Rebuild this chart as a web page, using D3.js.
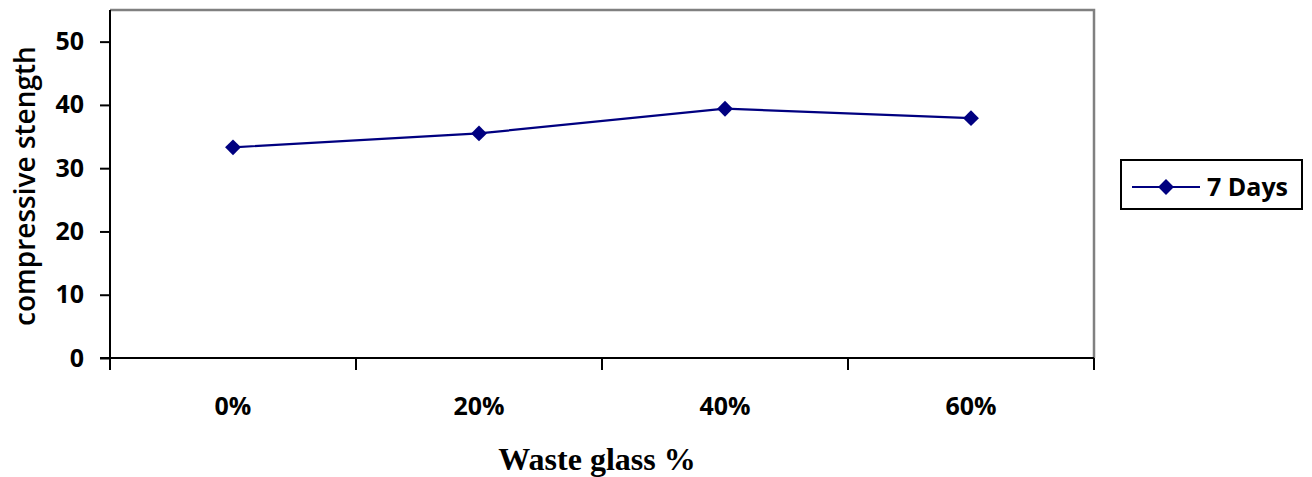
<!DOCTYPE html>
<html><head><meta charset="utf-8">
<script src="https://cdn.jsdelivr.net/npm/d3@7"></script>
<style>body{margin:0;background:#fff}svg{display:block}</style>
</head><body>
<script>
const categories = ["0%", "20%", "40%", "60%"];
const values7Days = [33.3, 35.5, 39.4, 37.9];
const yTicks = [0, 10, 20, 30, 40, 50];
const seriesName = "7 Days";
const yTitle = "compressive stength";
const xTitle = "Waste glass %";

const W = 1312, H = 477;
const pL = 110, pR = 1094, pT = 10, pB = 358;
const svg = d3.select("body").append("svg").attr("width", W).attr("height", H);
const x = d3.scaleBand().domain(categories).range([pL, pR]).paddingInner(0).paddingOuter(0);
const y = d3.scaleLinear().domain([0, 55]).range([pB, pT]);
const sans = "'Open Sans', Calibri, sans-serif";

// plot area border (gray)
svg.append("path").attr("d", `M${pL},${pT}H${pR}V${pB}`)
  .attr("fill", "none").attr("stroke", "#808080").attr("stroke-width", 2.5);

// y axis
const ya = svg.append("g").attr("transform", `translate(${pL},0)`)
  .call(d3.axisLeft(y).tickValues(yTicks).tickSize(10).tickPadding(16).tickFormat(d3.format("d")));
ya.select(".domain").attr("stroke", "#000").attr("stroke-width", 2).attr("d", `M0,${pT}V${pB}`);
ya.selectAll(".tick line").attr("stroke", "#000").attr("stroke-width", 2);
ya.selectAll(".tick text").attr("font-family", sans).attr("font-weight", "bold").attr("font-size", 25).attr("fill", "#000");

// x axis
const xa = svg.append("g").attr("transform", `translate(0,${pB})`);
xa.append("line").attr("x1", pL - 10).attr("x2", pR).attr("stroke", "#000").attr("stroke-width", 2);
const bounds = categories.map(c => x(c)).concat([x(categories[categories.length - 1]) + x.bandwidth()]);
xa.selectAll("line.tk").data(bounds).join("line").attr("class", "tk")
  .attr("x1", d => d).attr("x2", d => d).attr("y1", 0).attr("y2", 12)
  .attr("stroke", "#000").attr("stroke-width", 2);
xa.selectAll("text").data(categories).join("text")
  .attr("x", d => x(d) + x.bandwidth() / 2).attr("y", 57)
  .attr("text-anchor", "middle").attr("font-family", sans).attr("font-weight", "bold")
  .attr("font-size", 25).attr("fill", "#000").text(d => d);

// line
const pts = categories.map((c, i) => [x(c) + x.bandwidth() / 2, y(values7Days[i])]);
svg.append("path").attr("d", d3.line()(pts)).attr("fill", "none").attr("stroke", "#000080").attr("stroke-width", 2.2);
const diamond = d3.symbol().type(d3.symbolDiamond2).size(160);
svg.selectAll("path.pt").data(pts).join("path").attr("class", "pt")
  .attr("transform", d => `translate(${d[0]},${d[1]})`)
  .attr("d", diamond).attr("fill", "#000080");

// axis titles
svg.append("text").attr("transform", "translate(35,186) rotate(-90)")
  .attr("text-anchor", "middle").attr("font-family", sans).attr("font-weight", 600).attr("font-size", 28).attr("fill", "#000").text(yTitle);
svg.append("text").attr("x", 597).attr("y", 470).attr("text-anchor", "middle")
  .attr("font-family", "'Liberation Serif', 'Times New Roman', serif").attr("font-weight", "bold")
  .attr("font-size", 32).attr("fill", "#000").text(xTitle);

// legend
const lg = svg.append("g");
lg.append("rect").attr("x", 1121).attr("y", 160).attr("width", 181).attr("height", 49)
  .attr("fill", "#fff").attr("stroke", "#000").attr("stroke-width", 2);
lg.append("line").attr("x1", 1132).attr("x2", 1200).attr("y1", 187).attr("y2", 187)
  .attr("stroke", "#000080").attr("stroke-width", 2.2);
lg.append("path").attr("transform", "translate(1166,187)").attr("d", diamond).attr("fill", "#000080");
lg.append("text").attr("x", 1207).attr("y", 196).attr("font-family", sans).attr("font-weight", "bold")
  .attr("font-size", 25).attr("fill", "#000").text(seriesName);
</script>
</body></html>
